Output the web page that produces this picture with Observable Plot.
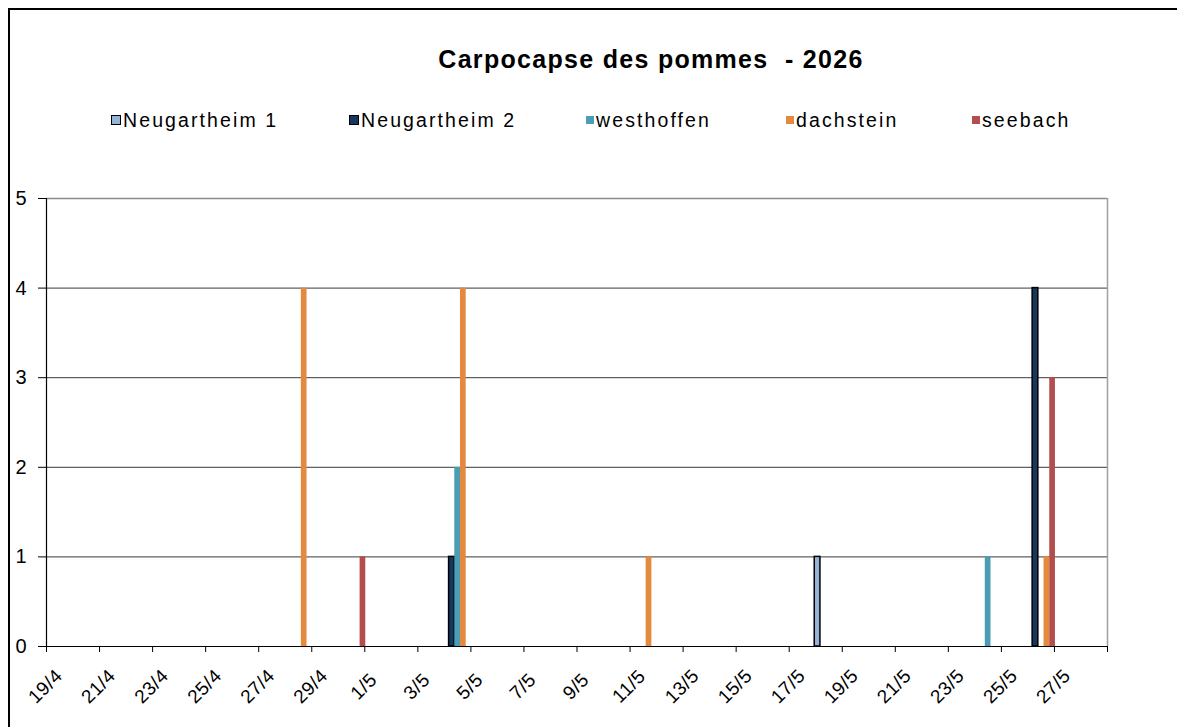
<!DOCTYPE html>
<html>
<head>
<meta charset="utf-8">
<script src="https://cdn.jsdelivr.net/npm/d3@7"></script>
<script src="https://cdn.jsdelivr.net/npm/@observablehq/plot@0.6"></script>
<style>
  html, body { margin: 0; padding: 0; background: #fff; }
  #wrap { position: relative; width: 1177px; height: 727px; overflow: hidden; font-family: "Liberation Sans", Arial, sans-serif; }
  #frame { position: absolute; left: 8px; top: 8px; width: 1200px; height: 800px; border-top: 2px solid #000; border-left: 2px solid #000; }
  #title { position: absolute; top: 46px; left: 0; width: 1302px; text-align: center; font-weight: bold; font-size: 25px; line-height: 26px; letter-spacing: 1.3px; color: #000; }
  .leg { position: absolute; top: 110px; display: flex; align-items: center; font-size: 19.5px; line-height: 20px; letter-spacing: 2.1px; color: #000; white-space: nowrap; }
  .sw { display: inline-block; margin-right: 2px; box-sizing: border-box; }
  #chart { position: absolute; left: 0; top: 150px; }
  #chart svg g.xlab text { font-size: 19px !important; letter-spacing: 0.5px; }
</style>
</head>
<body>
<div id="wrap">
  <div id="frame"></div>
  <div id="title"></div>
  <div id="legend"></div>
  <div id="chart"></div>
</div>
<script>
const titleText = "Carpocapse des pommes\u00a0 - 2026";
const seriesNames = ["Neugartheim 1", "Neugartheim 2", "westhoffen", "dachstein", "seebach"];
const seriesColors = ["#95B3D7", "#17375E", "#4A9DB5", "#E38A3F", "#B44E4C"];
const seriesStrokes = ["#000", "#000", "none", "none", "none"];
const legendX = [111, 349, 586, 786, 972];

const dates = ["2026-04-28", "2026-04-30", "2026-05-04", "2026-05-11", "2026-05-18", "2026-05-24", "2026-05-26"];
const neugartheim1 = [0, 0, 0, 0, 1, 0, 0];
const neugartheim2 = [0, 0, 1, 0, 0, 0, 4];
const westhoffen   = [0, 0, 2, 0, 0, 1, 0];
const dachstein    = [4, 0, 4, 1, 0, 0, 1];
const seebach      = [0, 1, 0, 0, 0, 0, 3];
const seriesValues = [neugartheim1, neugartheim2, westhoffen, dachstein, seebach];

const xStart = "2026-04-19";
const xEnd = "2026-05-29";
const yTicks = [0, 1, 2, 3, 4, 5];

const DAY = 86400000;
const barW = 0.215; // fraction of a day per bar

document.getElementById("title").textContent = titleText;

const legend = document.getElementById("legend");
seriesNames.forEach((name, i) => {
  const item = document.createElement("div");
  item.className = "leg";
  item.style.left = legendX[i] + "px";
  const sw = document.createElement("span");
  sw.className = "sw";
  const bordered = seriesStrokes[i] !== "none";
  sw.style.width = bordered ? "10px" : "8px";
  sw.style.height = bordered ? "10px" : "8px";
  sw.style.background = seriesColors[i];
  if (bordered) sw.style.border = "1.5px solid #000";
  item.appendChild(sw);
  const t = document.createElement("span");
  t.textContent = name;
  item.appendChild(t);
  legend.appendChild(item);
});

const rows = [];
dates.forEach((d, j) => {
  const t0 = new Date(d + "T00:00:00Z").getTime();
  seriesNames.forEach((s, i) => {
    const v = seriesValues[i][j];
    if (v > 0) {
      const x1 = new Date(t0 + (0.5 + (i - 2.5) * barW) * DAY);
      const x2 = new Date(t0 + (0.5 + (i - 1.5) * barW) * DAY);
      rows.push({series: s, x1, x2, value: v, fill: seriesColors[i], stroke: seriesStrokes[i]});
    }
  });
});

const d0 = new Date(xStart + "T00:00:00Z");
const d1 = new Date(xEnd + "T00:00:00Z");
const xTicks = d3.utcDay.range(d0, new Date(d1.getTime() + DAY), 2);
const xLabelTicks = xTicks.filter(d => d.getTime() < d1.getTime());
const fmt = d => `${d.getUTCDate()}/${d.getUTCMonth() + 1}`;

const plot = Plot.plot({
  width: 1177,
  height: 577,
  marginTop: 48,
  marginBottom: 81,
  marginLeft: 46,
  marginRight: 70,
  style: {fontFamily: "'Liberation Sans', Arial, sans-serif", color: "#000", background: "transparent"},
  x: {type: "utc", domain: [d0, d1]},
  y: {domain: [0, 5]},
  marks: [
    Plot.ruleY([1, 2, 3, 4], {stroke: "#3a3a3a", strokeWidth: 1}),
    Plot.ruleY([5], {stroke: "#8c8c8c", strokeWidth: 1.5}),
    Plot.ruleX([d1], {stroke: "#a0a0a0", strokeWidth: 1.5}),
    Plot.rect(rows, {x1: "x1", x2: "x2", y1: 0, y2: "value", fill: "fill", stroke: "stroke", strokeWidth: 1.5, inset: 0}),
    Plot.ruleY([0], {stroke: "#000", strokeWidth: 1.2}),
    Plot.ruleX([d0], {stroke: "#000", strokeWidth: 1.2}),
    Plot.axisY({ticks: yTicks, tickFormat: d => String(d), tickSize: 8, tickPadding: 12, fontSize: 20, label: null, stroke: "#000"}),
    Plot.axisX({ticks: xTicks, tickFormat: () => "", tickSize: 6, label: null, stroke: "#000"}),
    Plot.text(xLabelTicks, {x: d => d, frameAnchor: "bottom", text: fmt, rotate: -45, textAnchor: "middle", lineAnchor: "middle", fontSize: 19, dx: -1, dy: 40, fill: "#000", className: "xlab"})
  ]
});
d3.select(plot).selectAll("g").each(function() {
  const lab = this.getAttribute("aria-label") || "";
  if (lab.includes("y-axis tick label")) {
    d3.select(this).selectAll("text").style("font-size", "20px");
  }
});
document.getElementById("chart").appendChild(plot);
</script>
</body>
</html>
